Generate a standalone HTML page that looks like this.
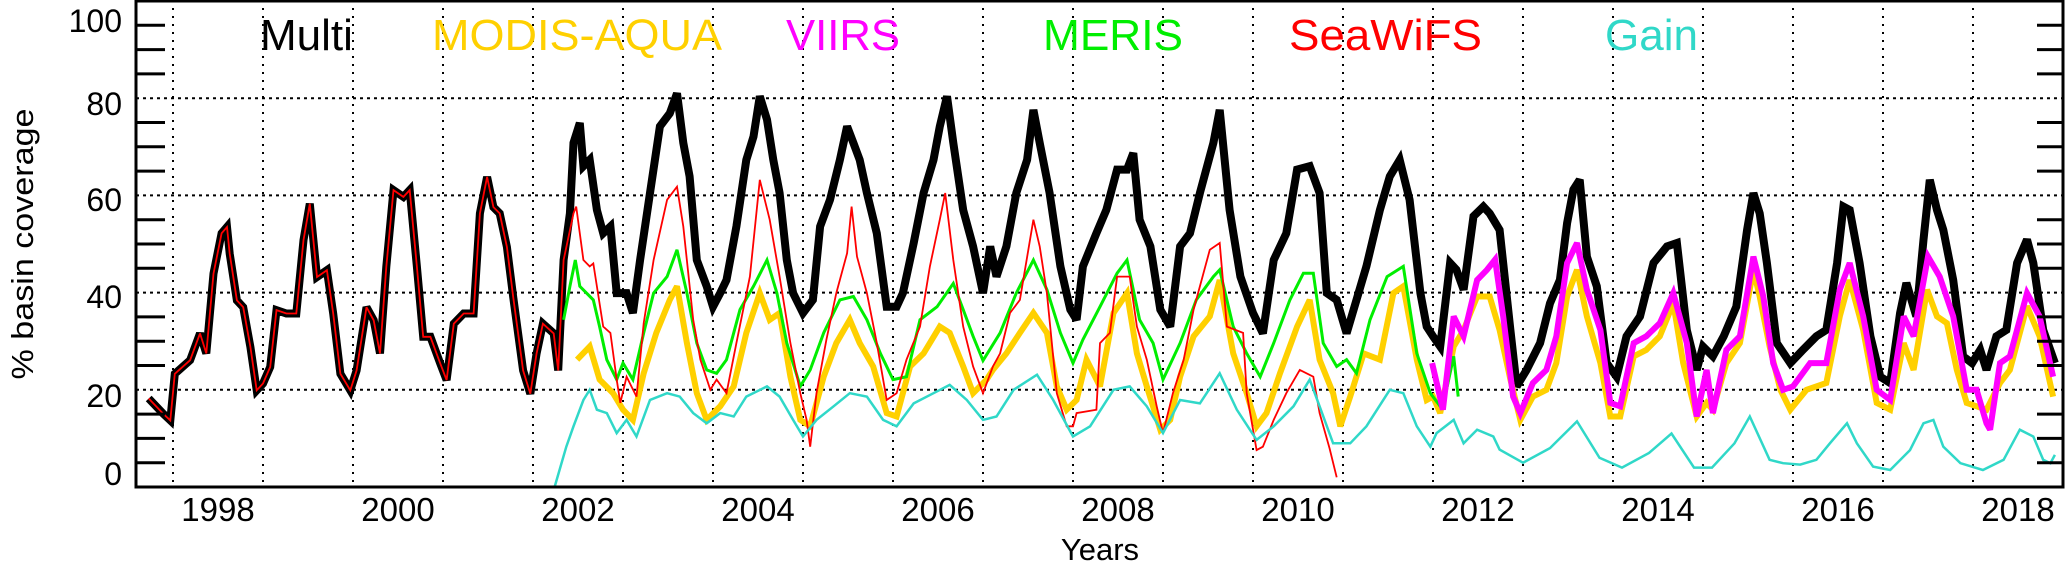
<!DOCTYPE html>
<html><head><meta charset="utf-8"><title>% basin coverage</title>
<style>
html,body{margin:0;padding:0;background:#fff;}
svg{display:block;font-family:"Liberation Sans",sans-serif;}
</style></head>
<body>
<svg id="chart" width="2067" height="565" viewBox="0 0 2067 565" xmlns="http://www.w3.org/2000/svg">
<g id="grid"></g>
<g id="series"></g>
<g id="axes"></g>
<g id="legend">
<text x="260" y="50" font-size="44" fill="#000">Multi</text>
<text x="432" y="50" font-size="44" fill="#ffd000" textLength="290" lengthAdjust="spacingAndGlyphs">MODIS-AQUA</text>
<text x="786" y="50" font-size="44" fill="#ff00ff" textLength="114" lengthAdjust="spacingAndGlyphs">VIIRS</text>
<text x="1043" y="50" font-size="44" fill="#00ee00" textLength="140" lengthAdjust="spacingAndGlyphs">MERIS</text>
<text x="1289" y="50" font-size="44" fill="#ff0000" textLength="193" lengthAdjust="spacingAndGlyphs">SeaWiFS</text>
<text x="1605" y="50" font-size="44" fill="#30d8c8" textLength="93" lengthAdjust="spacingAndGlyphs">Gain</text>
</g>
<text x="0" y="0" font-size="31" fill="#000" text-anchor="middle" transform="translate(33,244) rotate(-90)" textLength="271" lengthAdjust="spacingAndGlyphs">% basin coverage</text>
<text x="1100" y="560" font-size="31" fill="#000" text-anchor="middle">Years</text>
</svg>
<script>
// ---- data (years, values in %) ----
const multiYears=[1997.73,1997.89,1997.97,1998.02,1998.19,1998.30,1998.37,1998.45,1998.54,1998.60,1998.63,1998.71,1998.78,1998.86,1998.93,1999.0,1999.08,1999.15,1999.26,1999.37,1999.45,1999.52,1999.60,1999.71,1999.78,1999.86,1999.97,2000.04,2000.15,2000.23,2000.30,2000.37,2000.45,2000.56,2000.63,2000.71,2000.78,2000.86,2000.97,2001.04,2001.12,2001.23,2001.34,2001.41,2001.49,2001.56,2001.63,2001.71,2001.78,2001.89,2001.97,2002.04,2002.11,2002.23,2002.28,2002.34,2002.41,2002.45,2002.52,2002.56,2002.63,2002.71,2002.78,2002.86,2002.93,2003.04,2003.11,2003.19,2003.30,2003.41,2003.52,2003.60,2003.67,2003.74,2003.82,2003.93,2004.00,2004.08,2004.15,2004.26,2004.37,2004.45,2004.52,2004.60,2004.67,2004.74,2004.82,2004.89,2005.00,2005.11,2005.19,2005.30,2005.41,2005.49,2005.56,2005.63,2005.71,2005.82,2005.93,2006.04,2006.11,2006.23,2006.34,2006.45,2006.52,2006.60,2006.67,2006.78,2006.89,2007.00,2007.08,2007.15,2007.26,2007.37,2007.49,2007.56,2007.63,2007.74,2007.86,2007.97,2008.04,2008.11,2008.26,2008.37,2008.49,2008.60,2008.67,2008.74,2008.86,2008.97,2009.08,2009.19,2009.30,2009.41,2009.56,2009.63,2009.74,2009.86,2010.00,2010.11,2010.23,2010.37,2010.49,2010.63,2010.74,2010.82,2010.93,2011.04,2011.15,2011.26,2011.41,2011.52,2011.63,2011.74,2011.86,2011.93,2012.0,2012.08,2012.19,2012.26,2012.34,2012.45,2012.56,2012.63,2012.74,2012.86,2012.93,2013.04,2013.19,2013.30,2013.41,2013.49,2013.56,2013.63,2013.71,2013.82,2013.93,2014.04,2014.15,2014.30,2014.45,2014.60,2014.71,2014.82,2014.93,2015.00,2015.11,2015.23,2015.37,2015.49,2015.56,2015.63,2015.71,2015.82,2015.97,2016.11,2016.26,2016.37,2016.49,2016.56,2016.63,2016.74,2016.86,2016.97,2017.08,2017.19,2017.26,2017.37,2017.45,2017.52,2017.60,2017.67,2017.78,2017.89,2017.99,2018.08,2018.15,2018.26,2018.37,2018.49,2018.60,2018.67,2018.78,2018.91];
const multiValues=[18.2,15.1,13.7,23.3,26.1,31.6,27.5,43.9,52.2,53.5,48,38.4,37,28.8,19.9,21.3,24.7,36.4,35.7,35.7,50.8,58.3,43.2,44.6,35.7,23.3,19.9,24,37,34.3,27.5,45.3,61.1,59.7,61.1,45.3,30.9,30.9,25.4,22,33.6,35.7,35.7,56.3,63.8,57.6,56.3,49.4,39.1,24,19.2,27.5,33.6,31.6,24,46.7,56.3,70.8,74.9,66,67.3,57,52.2,53.6,39.9,39.9,35.8,46.7,60.5,74.2,76.9,81,70.8,63.9,46.7,41.3,37.1,39.9,42.6,53.6,67.3,72.1,80.4,75.6,67.3,60.5,46.7,39.9,35.8,38.5,53.6,59.1,67.3,74.2,70.8,67.3,60.5,52.2,37.1,37.1,39.9,50.2,60.5,67.3,74.2,80.4,70.8,57,49.5,39.9,49.5,43.3,49.5,60.5,67.3,77.6,70.8,60.5,45.4,36.5,34.4,45.4,52.2,57,65.3,65.3,68.7,55,49.5,36.5,33,49.5,52.2,60.5,70.8,77.6,57,43.3,35.8,31.6,46.7,52.2,65.3,66,60.5,39.9,38.5,31.6,38.5,45.4,57,63.9,67.3,59.1,39.9,33,31,28.9,46.1,44.7,40.6,55.7,57.7,56.3,52.9,32.3,20.7,24.1,29.6,37.8,42.6,54.3,61.2,63.2,47.4,41.3,25.5,22.7,31,35.1,46.1,49.5,50.2,32.3,24.1,28.9,26.9,31,37.1,52.9,60.5,56.3,46.1,29.6,25.5,28.2,31,32.3,46.1,57.7,57,46.1,31,22.7,21.4,35.8,42,35.1,50.9,63.2,57,52.9,42.6,26.9,25.5,28.2,24.1,31,32.3,46.1,50.9,46.1,32.3,25.5];

const seawifsYears=[1997.73,1997.89,1997.97,1998.02,1998.19,1998.30,1998.37,1998.45,1998.54,1998.60,1998.63,1998.71,1998.78,1998.86,1998.93,1999.0,1999.08,1999.15,1999.26,1999.37,1999.45,1999.52,1999.60,1999.71,1999.78,1999.86,1999.97,2000.04,2000.15,2000.23,2000.30,2000.37,2000.45,2000.56,2000.63,2000.71,2000.78,2000.86,2000.97,2001.04,2001.12,2001.23,2001.34,2001.41,2001.49,2001.56,2001.63,2001.71,2001.78,2001.89,2001.97,2002.04,2002.11,2002.23,2002.28,2002.34,2002.45,2002.48,2002.56,2002.63,2002.67,2002.78,2002.86,2002.93,2002.97,2003.04,2003.15,2003.23,2003.34,2003.49,2003.60,2003.67,2003.78,2003.86,2003.97,2004.04,2004.15,2004.26,2004.41,2004.52,2004.63,2004.74,2004.86,2004.97,2005.04,2005.08,2005.15,2005.26,2005.37,2005.49,2005.54,2005.60,2005.71,2005.82,2005.93,2006.04,2006.15,2006.30,2006.41,2006.52,2006.58,2006.67,2006.78,2006.89,2007.0,2007.11,2007.19,2007.30,2007.41,2007.56,2007.63,2007.71,2007.82,2007.93,2008.0,2008.04,2008.26,2008.30,2008.41,2008.49,2008.63,2008.71,2008.82,2008.93,2009.00,2009.11,2009.23,2009.34,2009.52,2009.63,2009.71,2009.89,2009.93,2010.04,2010.11,2010.23,2010.37,2010.52,2010.67,2010.74,2010.85,2010.93];
const seawifsValues=[18.2,15.1,13.7,23.3,26.1,31.6,27.5,43.9,52.2,53.5,48,38.4,37,28.8,19.9,21.3,24.7,36.4,35.7,35.7,50.8,58.3,43.2,44.6,35.7,23.3,19.9,24,37,34.3,27.5,45.3,61.1,59.7,61.1,45.3,30.9,30.9,25.4,22,33.6,35.7,35.7,56.3,63.8,57.6,56.3,49.4,39.1,24,19.2,27.5,33.6,31.6,24,46.7,56.3,57.7,46.7,45.4,46,33,31.7,22.1,17.3,22.7,18.6,33.7,46.7,59.1,61.8,53.6,34.4,26.2,20,22.1,19.3,29.6,43.3,63.2,55,43.3,29.6,19.3,13.8,8.3,19.3,30.3,39.9,48.1,57.7,47.4,39.9,29.6,17.9,19.3,26.2,33,45.4,55,60.5,46.7,33,24.8,19.3,24.8,27.5,35.8,38.5,55,49.5,39.9,19.3,12.5,12.5,15.2,15.9,29.6,31.7,43.3,43.3,33,26.2,16.6,11.1,19.3,26.2,36.5,48.8,50.2,33,31.7,19.3,7.6,8.3,13.8,19.3,24.1,22.7,15.2,8,2];

const merisYears=[2002.34,2002.41,2002.47,2002.52,2002.67,2002.74,2002.82,2002.93,2003.0,2003.11,2003.23,2003.34,2003.49,2003.60,2003.71,2003.82,2003.93,2004.04,2004.15,2004.30,2004.45,2004.60,2004.71,2004.82,2004.97,2005.08,2005.23,2005.41,2005.56,2005.71,2005.86,2006.00,2006.15,2006.30,2006.49,2006.67,2006.78,2006.89,2007.0,2007.19,2007.37,2007.56,2007.71,2007.86,2008.00,2008.11,2008.30,2008.49,2008.60,2008.74,2008.89,2009.00,2009.19,2009.37,2009.56,2009.63,2009.78,2009.93,2010.08,2010.23,2010.41,2010.56,2010.67,2010.78,2010.93,2011.04,2011.15,2011.30,2011.49,2011.67,2011.82,2011.97,2012.08,2012.15,2012.23,2012.28];
const merisValues=[34.4,41.3,46.7,41.3,38.5,33,26.2,22.1,25.5,22.1,31.7,39.9,43.3,48.8,39.9,29.6,24.1,23.4,26.2,36.5,41.3,46.7,39.9,29.6,20.7,24.1,31.7,38.5,39.2,34.4,27.5,22.1,22.7,34.4,37.1,41.9,36.5,31,26,31.7,39.9,46.7,40.6,31.7,25.5,30.3,37.1,44,46.7,34.4,29.6,22.1,29.6,38.5,43.3,44.7,33,27.5,22.7,29.6,38.5,44,44,29.6,24.8,26.2,23.4,34.4,43.3,45.4,27.5,19.3,16.6,20,26.9,18.6];

const modisYears=[2002.49,2002.63,2002.74,2002.89,2003.0,2003.11,2003.23,2003.37,2003.52,2003.60,2003.71,2003.82,2003.93,2004.08,2004.23,2004.37,2004.52,2004.63,2004.74,2004.86,2004.97,2005.08,2005.23,2005.37,2005.52,2005.63,2005.78,2005.93,2006.04,2006.19,2006.34,2006.52,2006.63,2006.78,2006.89,2007.04,2007.11,2007.26,2007.41,2007.56,2007.71,2007.82,2007.93,2008.04,2008.15,2008.30,2008.45,2008.60,2008.71,2008.82,2008.97,2009.08,2009.19,2009.34,2009.52,2009.63,2009.78,2009.93,2010.04,2010.15,2010.30,2010.49,2010.63,2010.74,2010.89,2010.97,2011.08,2011.23,2011.41,2011.56,2011.67,2011.82,2011.93,2012.00,2012.08,2012.23,2012.34,2012.49,2012.63,2012.74,2012.86,2012.97,2013.11,2013.26,2013.37,2013.49,2013.60,2013.71,2013.86,2013.97,2014.08,2014.23,2014.37,2014.52,2014.67,2014.78,2014.93,2015.04,2015.11,2015.26,2015.41,2015.56,2015.63,2015.74,2015.86,2015.97,2016.15,2016.37,2016.52,2016.63,2016.78,2016.93,2017.08,2017.23,2017.34,2017.49,2017.60,2017.71,2017.82,2017.93,2018.04,2018.15,2018.30,2018.41,2018.60,2018.74,2018.89];
const modisValues=[26.2,28.9,22.1,19.3,15.9,13.8,23.4,31.7,38.5,41.3,29.6,19.3,13.8,16.6,20.7,31.7,39.9,34.4,35.8,22.7,13.8,12.5,22.7,29.6,34.4,29.6,24.8,15.2,14.5,24.8,27.5,33,31.7,24.8,19.3,22.1,24.1,27.5,31.7,35.8,31.7,20.7,15.9,17.9,26.2,20.7,35.8,39.9,27.5,20.7,11.8,13.8,22.7,31,35.1,42.6,27.5,19.3,12.5,15.2,23.4,33,38.5,26.2,19.3,12.5,18.6,27.5,26.2,39.9,41.3,26.2,17.9,18.6,15.2,28.9,32.3,39.2,39.2,32.3,22.1,13.8,18.6,20,25.5,39.2,44.7,35.1,25.5,14.5,14.5,26.9,28.2,31,37.8,25.5,14.5,17.3,15.9,25.5,29.6,44.7,39.2,28.9,20,15.9,20,21.4,35.1,42.6,32.3,17.3,15.9,29.6,24.1,40.6,35.1,33.7,24.1,17.3,16.6,15.9,21.4,24.1,37.2,31,18.6];

const viirsYears=[2011.99,2012.11,2012.23,2012.34,2012.49,2012.60,2012.69,2012.78,2012.89,2012.97,2013.11,2013.26,2013.37,2013.49,2013.60,2013.71,2013.86,2013.97,2014.08,2014.23,2014.37,2014.52,2014.67,2014.82,2014.93,2015.04,2015.11,2015.26,2015.41,2015.56,2015.67,2015.78,2015.89,2016.00,2016.19,2016.37,2016.52,2016.63,2016.78,2016.93,2017.08,2017.23,2017.34,2017.50,2017.63,2017.78,2017.93,2018.04,2018.15,2018.19,2018.30,2018.41,2018.60,2018.74,2018.89];
const viirsValues=[25.5,15.9,35.1,31,42.6,44.7,46.8,35.1,18.6,15.2,21.4,24.1,31,46.1,50.2,40.6,32.3,17.3,16.6,29.6,31,33.7,39.9,29.6,14.5,24.1,15.2,28.2,31,47.4,39.2,25.5,20,20.7,25.5,25.5,40.6,46.1,35.1,20,17.9,35.1,31,47.4,43.3,35.1,20,20,13.1,11.8,25.5,26.9,39.9,35.1,22.7];

const gainYears=[2002.24,2002.37,2002.45,2002.56,2002.63,2002.71,2002.82,2002.93,2003.04,2003.15,2003.30,2003.49,2003.63,2003.78,2003.93,2004.08,2004.23,2004.37,2004.60,2004.74,2004.89,2005.0,2005.15,2005.34,2005.52,2005.71,2005.89,2006.04,2006.23,2006.45,2006.63,2006.82,2007.0,2007.15,2007.34,2007.60,2007.78,2008.0,2008.19,2008.45,2008.63,2008.82,2009.00,2009.19,2009.41,2009.63,2009.82,2010.04,2010.23,2010.45,2010.63,2010.74,2010.89,2011.08,2011.26,2011.52,2011.67,2011.82,2011.97,2012.04,2012.23,2012.34,2012.49,2012.67,2012.74,2013.0,2013.3,2013.6,2013.85,2014.1,2014.4,2014.65,2014.9,2015.1,2015.35,2015.52,2015.74,2015.89,2016.08,2016.26,2016.41,2016.6,2016.71,2016.89,2017.08,2017.30,2017.45,2017.56,2017.67,2017.86,2018.11,2018.34,2018.52,2018.67,2018.78,2018.86,2018.91];
const gainValues=[0,8.3,12.5,17.9,20,15.9,15.2,11.1,13.8,10.4,17.9,19.3,18.6,15.2,13.1,15.2,14.5,18.6,20.7,18.6,13.8,10.4,13.8,16.6,19.3,18.6,13.8,12.5,17.2,19.3,21,17.9,13.8,14.5,20,23.1,17.9,10.4,12.5,20,20.7,16.6,11.1,17.9,17.2,23.4,15.9,9.7,12.5,16.6,22.1,16.6,9,9,12.5,20,19.3,12.5,8.3,11.1,13.8,9,11.8,10.4,7.7,5,8,13.5,6,4,7,11,4,4,9,14.5,5.6,4.9,4.6,5.6,9,13.1,9,4.2,3.5,7.6,13.1,13.8,8.3,4.9,3.5,5.6,11.8,10.4,5.6,4.9,6.6];

const yTickLabels=["100","80","60","40","20","0"];
const xTickLabels=["1998","2000","2002","2004","2006","2008","2010","2012","2014","2016","2018"];

// ---- axis functions ----
const NS="http://www.w3.org/2000/svg";
const X0=173, PXY=90, Y0=487, PXV=4.86;
function xs(yr){return X0+(yr-1998)*PXY;}
function ys(v){return Y0-v*PXV;}
const L=136,R=2063,T=1,B=487;
function mk(tag,attrs,parent){const e=document.createElementNS(NS,tag);for(const k in attrs)e.setAttribute(k,attrs[k]);parent.appendChild(e);return e;}

const grid=document.getElementById('grid');
for(let yr=1998;yr<=2018;yr++){
  const ln=mk('line',{x1:xs(yr),x2:xs(yr),y1:8,y2:B-2,stroke:'#000','stroke-width':2,'stroke-dasharray':'2 6'},grid);
  
  
}
[20,40,60,80].forEach(v=>{
  const ln=mk('line',{x1:L,x2:R,y1:ys(v),y2:ys(v),stroke:'#000','stroke-width':2,'stroke-dasharray':'3 4'},grid);
  
  
});

const ser=document.getElementById('series');
function draw(yrs,vals,color,w){
  let d='';
  for(let i=0;i<yrs.length;i++){d+=(i?'L':'M')+xs(yrs[i]).toFixed(1)+' '+ys(vals[i]).toFixed(1);}
  return mk('path',{d:d,fill:'none',stroke:color,'stroke-width':w,'stroke-linejoin':'miter','stroke-miterlimit':3},ser);
}
let p;
p=draw(multiYears,multiValues,'#000',8);


p=draw(modisYears,modisValues,'#ffd000',6);


p=draw(merisYears,merisValues,'#00ee00',3);


p=draw(seawifsYears,seawifsValues,'#ff0000',1.8);


p=draw(viirsYears,viirsValues,'#ff00ff',6);


p=draw(gainYears,gainValues,'#30d8c8',2.5);



const ax=document.getElementById('axes');
const frame=mk('rect',{x:L,y:T,width:R-L,height:B-T,fill:'none',stroke:'#000','stroke-width':3},ax);


for(let v=5;v<100;v+=5){
  if(v%20===0)continue;
  const t1=mk('line',{x1:L,x2:L+29,y1:ys(v),y2:ys(v),stroke:'#000','stroke-width':3},ax);
  
  
  const t2=mk('line',{x1:R-26,x2:R,y1:ys(v),y2:ys(v),stroke:'#000','stroke-width':3},ax);
  
  
}
const yLabelBase=[32,115,211,308,407,485];
yTickLabels.forEach((s,i)=>{
  const t=mk('text',{x:122,y:yLabelBase[i],'font-size':32,'text-anchor':'end',fill:'#000'},ax);
  t.textContent=s;
  
  
});
xTickLabels.forEach(s=>{
  const t=mk('text',{x:xs(+s+0.5),y:521,'font-size':33,'text-anchor':'middle',fill:'#000'},ax);
  t.textContent=s;
  
  
});
</script>
</body></html>
